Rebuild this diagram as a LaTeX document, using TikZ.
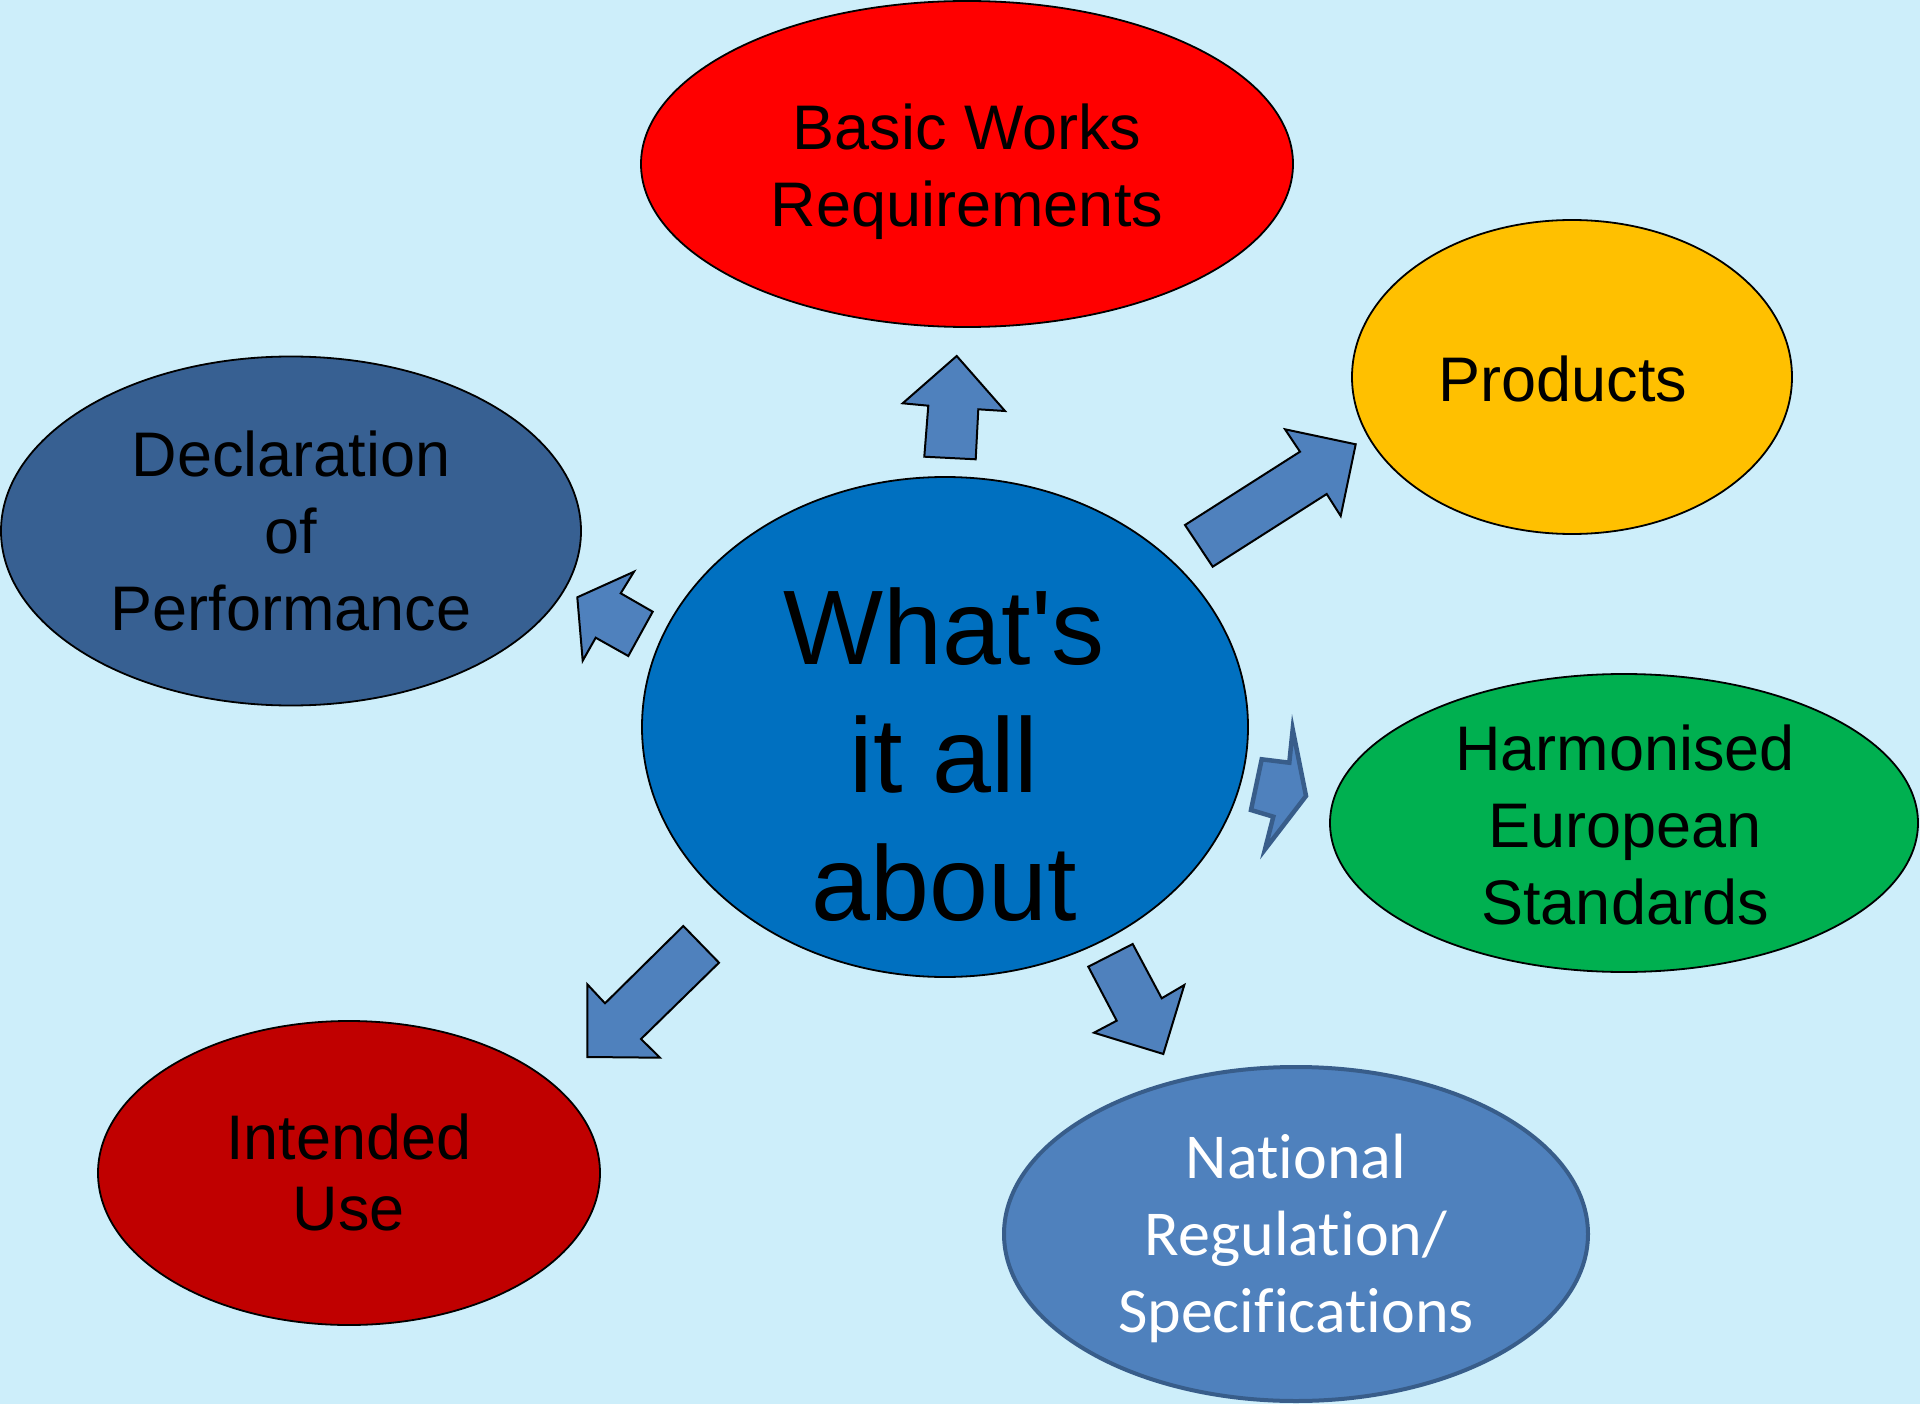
\documentclass[tikz,border=0pt]{standalone}
\usepackage{fontspec}
\setmainfont{Liberation Sans}
\newfontfamily\calib[Ligatures=NoCommon]{Carlito}
\usetikzlibrary{shapes.geometric}
\definecolor{bg}{RGB}{205,238,250}
\definecolor{bwrred}{RGB}{255,0,0}
\definecolor{prodorange}{RGB}{255,192,0}
\definecolor{dopblue}{RGB}{55,96,146}
\definecolor{centerblue}{RGB}{0,112,192}
\definecolor{hengreen}{RGB}{0,176,80}
\definecolor{iudark}{RGB}{192,0,0}
\definecolor{midblue}{RGB}{79,129,189}
\definecolor{edgeblue}{RGB}{56,93,138}
\begin{document}
\begin{tikzpicture}[x=1pt,y=-1pt,
  oval/.style={ellipse, draw=black, line width=1.8pt, inner sep=0pt},
  lbl/.style={align=center, inner sep=0pt, text=black, font=\fontsize{63}{77}\selectfont},
  blk/.style={fill=midblue, draw=black, line width=2pt, line join=miter}]
\fill[bg] (0,0) rectangle (1920,1404);
\useasboundingbox (0,0) rectangle (1920,1404);

% ellipses
\node[oval, fill=bwrred, minimum width=652pt, minimum height=326pt] (bwr) at (967,164) {};
\node[oval, fill=prodorange, minimum width=440pt, minimum height=314pt] (prod) at (1572,377) {};
\node[oval, fill=dopblue, minimum width=580pt, minimum height=349pt] (dop) at (291,531) {};
\node[oval, fill=centerblue, minimum width=606pt, minimum height=500pt] (ctr) at (945,727) {};
\node[oval, fill=hengreen, minimum width=588pt, minimum height=298pt] (hen) at (1624,823) {};
\node[oval, fill=iudark, minimum width=502pt, minimum height=304pt] (iu) at (349,1173) {};
\node[oval, draw=edgeblue, line width=4pt, fill=midblue, minimum width=584pt, minimum height=334pt] (nat) at (1296,1234) {};

% labels
\node[lbl] (bwrT) at (967,172.4) {\strut Basic Works\\\strut Requirements};
\node[lbl] (prodT) at (1563,386.2) {\strut Products};
\node[lbl] (dopT) at (291,538.3) {\strut Declaration\\\strut of\\\strut Performance};
\node[lbl] (henT) at (1625,831.6) {\strut Harmonised\\\strut European\\\strut Standards};
\node[lbl, font=\fontsize{63}{71}\selectfont] (iuT) at (349,1180.6) {\strut Intended\\\strut Use};
\node[lbl, text=white, font=\calib\fontsize{64}{77}\selectfont] (natT) at (1296,1239.6) {\strut National\\\strut Regulation/\\\strut Specifications};
\node[lbl, font=\fontsize{106}{128}\selectfont] (ctrT) at (944,766.4) {\strut What\textquotesingle s\\\strut it all\\\strut about};

% block arrows
\draw[blk] (956.7,356) -- (1005,411) -- (978.3,409.3) -- (975.7,459.3) -- (924.3,456.7) -- (928.3,405.7) -- (902.7,403.3) -- cycle;
\draw[blk] (1355.7,444.3) -- (1340.7,516) -- (1326.7,494) -- (1212.7,566.7) -- (1185,525) -- (1300,451.7) -- (1285,429.3) -- cycle;
\draw[blk] (577.3,597.3) -- (634,571.7) -- (620.7,593.3) -- (652.7,611.7) -- (628.3,656) -- (595.7,637.7) -- (582.7,660.7) -- cycle;
\draw[blk, draw=edgeblue, line width=4.5pt] (1292.7,729.3) -- (1306,796) -- (1265,849.3) -- (1273.3,816.7) -- (1251,810) -- (1261.7,759.3) -- (1289.3,762.7) -- cycle;
\draw[blk] (1088.3,966.7) -- (1132.7,944) -- (1161.7,998.3) -- (1184.3,985) -- (1163.3,1054) -- (1094,1032.7) -- (1116.7,1020.7) -- cycle;
\draw[blk] (683.3,926) -- (719,962.7) -- (641,1039) -- (660,1057.7) -- (587.3,1057) -- (587.3,984.3) -- (605,1003.3) -- cycle;
\end{tikzpicture}
\end{document}
